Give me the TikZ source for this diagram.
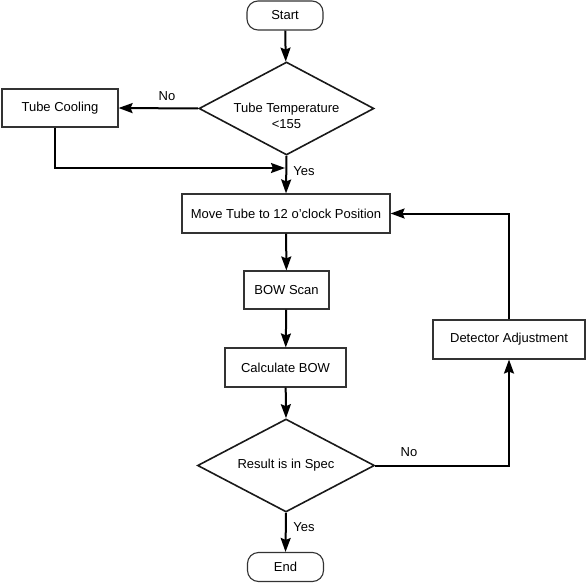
\documentclass[tikz,border=0pt]{standalone}
\usepackage{fontspec}
\setmainfont{Liberation Sans}
\usetikzlibrary{shapes.geometric,arrows.meta}
\begin{document}
\begin{tikzpicture}[x=1pt,y=-1pt,
  every node/.style={font=\fontsize{13}{15.5}\selectfont},
  box/.style={draw=black!80, line width=1.1pt, rectangle, inner sep=0pt},
  term/.style={draw=black!80, line width=1.1pt, rectangle, rounded corners=11pt, inner sep=0pt, minimum width=76pt, minimum height=29pt},
  decision/.style={draw=black!90, line width=1.6pt, diamond, aspect=1.88, inner sep=0pt},
  flow/.style={line width=2pt, -{Stealth[length=14pt,width=10pt,inset=2pt]}},
  lbl/.style={inner sep=0pt}]
\useasboundingbox (0,0) rectangle (586,583);
\fill[white] (0,0) rectangle (586,583);

\node[term] (start) at (285,15.5) {Start};
\node[decision, minimum width=175pt, minimum height=93pt] (d1) at (286.5,108.5) {};
\node[lbl, align=center] (d1t) at (286.5,116) {Tube Temperature\\<155};
\node[box, minimum width=116pt, minimum height=38pt] (tc) at (60,108) {Tube Cooling};
\node[box, minimum width=208pt, minimum height=39pt] (move) at (286,213.5) {Move Tube to 12 o'clock Position};
\node[box, minimum width=85pt, minimum height=38pt] (scan) at (286.5,290) {BOW Scan};
\node[box, minimum width=121pt, minimum height=39pt] (calc) at (285.5,367.5) {Calculate BOW};
\node[decision, minimum width=177pt, minimum height=93pt] (d2) at (286,465.5) {Result is in Spec};
\node[box, minimum width=152pt, minimum height=39pt] (det) at (509,339.5) {Detector Adjustment};
\node[term] (end) at (285.5,567) {End};

\node[lbl] (no1) at (167,96) {No};
\node[lbl] (yes1) at (304,171) {Yes};
\node[lbl] (no2) at (409,452) {No};
\node[lbl] (yes2) at (304,527) {Yes};

\coordinate (j) at (285,168);

\draw[flow] (start) -- (d1);
\draw[flow] (d1.west) -- (tc.east);
\draw[flow] ([xshift=-5pt]tc.south) |- (j);
\draw[flow] (d1.south) -- (move.north);
\draw[flow] (move) -- (scan);
\draw[flow] (scan) -- (calc);
\draw[flow] (calc) -- (d2.north);
\draw[flow] (d2.east) -| (det.south);
\draw[flow] (det.north) |- (move.east);
\draw[flow] (d2.south) -- (end.north);
\end{tikzpicture}
\end{document}
